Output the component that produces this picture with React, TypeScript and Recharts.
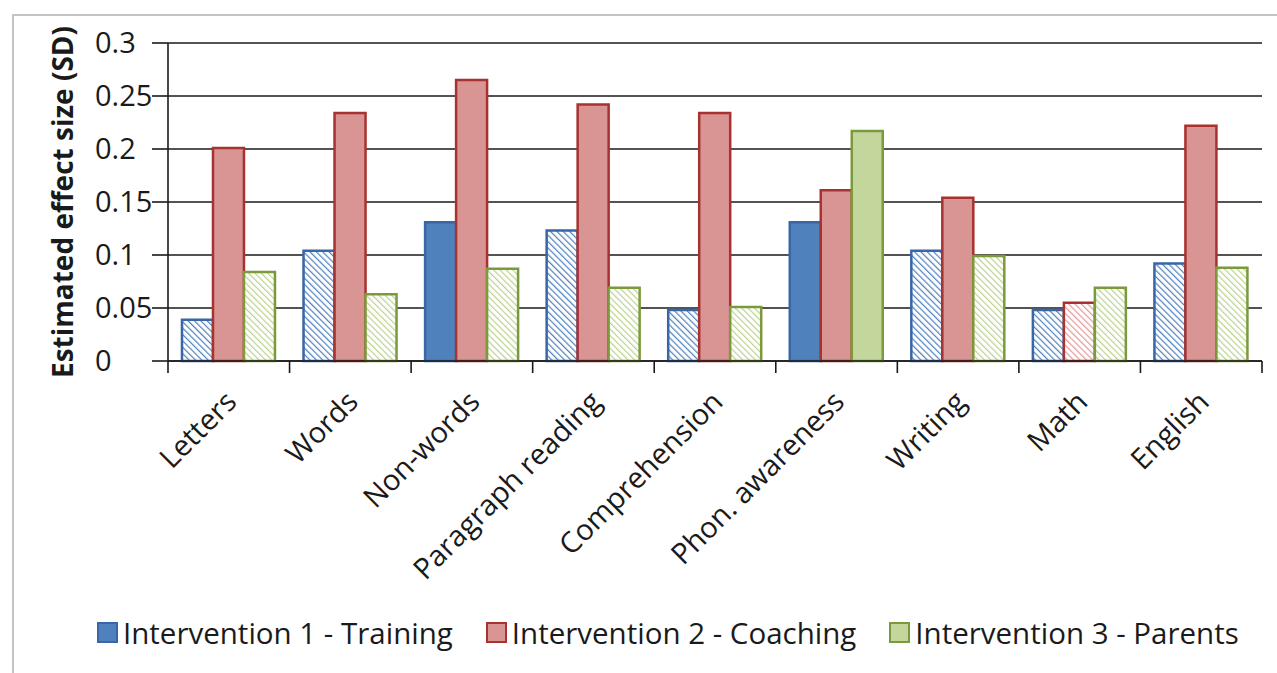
import React from 'react';
import { BarChart, Bar, XAxis, YAxis, CartesianGrid, Legend, Cell } from 'recharts';

// values
const categories = ['Letters', 'Words', 'Non-words', 'Paragraph reading', 'Comprehension', 'Phon. awareness', 'Writing', 'Math', 'English'];
const training = [0.039, 0.104, 0.131, 0.123, 0.048, 0.131, 0.104, 0.048, 0.092];
const coaching = [0.201, 0.234, 0.265, 0.242, 0.234, 0.161, 0.154, 0.055, 0.222];
const parents = [0.084, 0.063, 0.087, 0.069, 0.051, 0.217, 0.099, 0.069, 0.088];

// solid = significant, hatched = not significant
const trainingSolid = [false, false, true, false, false, true, false, false, false];
const coachingSolid = [true, true, true, true, true, true, true, false, true];
const parentsSolid = [false, false, false, false, false, true, false, false, false];

const yTicks = [0, 0.05, 0.1, 0.15, 0.2, 0.25, 0.3];

const data = categories.map((name, i) => ({
  name,
  training: training[i],
  coaching: coaching[i],
  parents: parents[i],
}));

const FONT = '"Open Sans", "Noto Sans", sans-serif';
const TEXT = '#1a1a1a';
const LINE = '#1a1a1a';

const series = [
  { key: 'training', label: 'Intervention 1 - Training', fill: '#4f81bd', edge: '#3866a6', hatch: 'hatchBlue', hatchColor: '#4f81bd', solid: trainingSolid },
  { key: 'coaching', label: 'Intervention 2 - Coaching', fill: '#d99594', edge: '#a8322f', hatch: 'hatchRed', hatchColor: '#e39a99', solid: coachingSolid },
  { key: 'parents', label: 'Intervention 3 - Parents', fill: '#c3d69b', edge: '#7b9a3c', hatch: 'hatchGreen', hatchColor: '#bcd28f', solid: parentsSolid },
];

// category label plus the tick marks on the band edges (Excel style)
const XTick = (props: any) => {
  const { x, y, payload, width, visibleTicksCount, index } = props;
  const half = payload.offset || width / visibleTicksCount / 2;
  return (
    <g>
      <line x1={x - half} x2={x - half} y1={y} y2={y + 12} stroke={LINE} strokeWidth={1.6} />
      {index === visibleTicksCount - 1 && (
        <line x1={x + half} x2={x + half} y1={y} y2={y + 12} stroke={LINE} strokeWidth={1.6} />
      )}
      <g transform={`translate(${x - 5},${y + 28})`}>
        <text transform="rotate(-45)" textAnchor="end" dy="0.71em" fontSize={29} fontFamily={FONT} fill={TEXT}>
          {payload.value}
        </text>
      </g>
    </g>
  );
};

const YTick = (props: any) => {
  const { x, y, payload } = props;
  return (
    <text x={x - 57} y={y} dy="0.355em" textAnchor="start" fontSize={29} fontFamily={FONT} fill={TEXT}>
      {payload.value}
    </text>
  );
};

const YLabel = (props: any) => {
  const { viewBox } = props;
  const cx = viewBox.x + 15;
  const cy = viewBox.y + viewBox.height / 2;
  return (
    <text transform={`rotate(-90, ${cx}, ${cy})`} x={cx} y={cy} textAnchor="middle" fontSize={28} fontWeight="bold" fontFamily={FONT} fill={TEXT}>
      Estimated effect size (SD)
    </text>
  );
};

const LegendBox = () => (
  <div style={{ display: 'flex', alignItems: 'center', height: 40, fontFamily: FONT, fontSize: 29.5, color: TEXT, whiteSpace: 'nowrap' }}>
    {series.map((s) => (
      <div key={s.key} style={{ display: 'flex', alignItems: 'center', marginRight: 33 }}>
        <span style={{ display: 'inline-block', width: 17, height: 17, background: s.fill, border: `2.5px solid ${s.edge}`, marginRight: 5 }} />
        <span>{s.label}</span>
      </div>
    ))}
  </div>
);

export default function App() {
  return (
    <div style={{ position: 'absolute', left: 0, top: 0, width: 1277, height: 673, overflow: 'hidden', background: '#fff' }}>
      <div style={{ position: 'absolute', left: 12, top: 14, width: 1400, height: 800, borderLeft: '2px solid #c4c4c4', borderTop: '2px solid #c4c4c4' }} />
      <svg width={0} height={0} style={{ position: 'absolute' }}>
        <defs>
          {series.map((s) => (
            <pattern key={s.hatch} id={s.hatch} width={4.5} height={4.5} patternUnits="userSpaceOnUse" patternTransform="rotate(-45)">
              <rect width={4.5} height={4.5} fill="#fff" />
              <line x1={0} y1={0} x2={0} y2={4.5} stroke={s.hatchColor} strokeWidth={2.4} />
            </pattern>
          ))}
        </defs>
      </svg>
      <div style={{ position: 'absolute', left: 0, top: 0 }}>
        <BarChart width={1277} height={673} data={data} margin={{ top: 43, right: 15, left: 58, bottom: 42 }} barCategoryGap="11.5%" barGap={0}>
          <CartesianGrid vertical={false} stroke={LINE} strokeWidth={1.6} />
          <XAxis dataKey="name" interval={0} tick={<XTick />} tickLine={false} tickSize={0} tickMargin={0} axisLine={{ stroke: LINE, strokeWidth: 1.6 }} height={230} />
          <YAxis domain={[0, 0.3]} ticks={yTicks} width={110} tickSize={16} tickMargin={0} axisLine={{ stroke: LINE, strokeWidth: 1.6 }} tickLine={{ stroke: LINE, strokeWidth: 1.6 }} tick={<YTick />} label={<YLabel />} />
          <Legend content={<LegendBox />} wrapperStyle={{ top: 612, left: 97, bottom: 'auto', width: 'auto' }} />
          {series.map((s) => (
            <Bar key={s.key} dataKey={s.key} name={s.label} fill={s.fill} stroke={s.edge} strokeWidth={2.5} isAnimationActive={false}>
              {data.map((d, i) => (
                <Cell key={d.name} fill={s.solid[i] ? s.fill : `url(#${s.hatch})`} />
              ))}
            </Bar>
          ))}
        </BarChart>
      </div>
    </div>
  );
}
